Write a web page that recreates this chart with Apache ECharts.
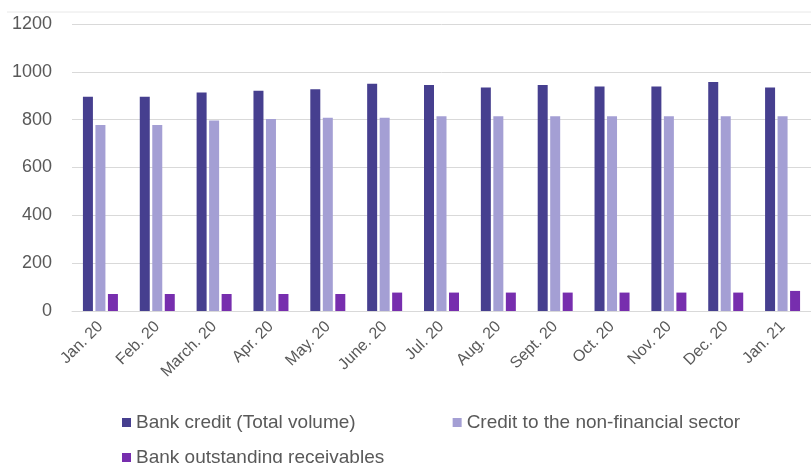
<!DOCTYPE html>
<html>
<head>
<meta charset="utf-8">
<script src="https://cdn.jsdelivr.net/npm/echarts@6/dist/echarts.min.js"></script>
<style>
  html, body { margin: 0; padding: 0; background: #fff; }
  #main { width: 811px; height: 463px; }
</style>
</head>
<body>
<div id="main"></div>
<script>
const months = ['Jan. 20', 'Feb. 20', 'March. 20', 'Apr. 20', 'May. 20', 'June. 20', 'Jul. 20',
  'Aug. 20', 'Sept. 20', 'Oct. 20', 'Nov. 20', 'Dec. 20', 'Jan. 21']
const bankCredit = [896, 896, 914, 921, 927, 950, 945, 934, 945, 939, 939, 957, 934]
const nonFinancial = [778, 778, 797, 803, 808, 808, 814, 814, 814, 814, 814, 814, 814]
const receivables = [71, 71, 71, 71, 71, 77, 77, 77, 77, 77, 77, 77, 84]

const txt = '#595959'
const font = 'Liberation Sans'

const chart = echarts.init(document.getElementById('main'))
chart.setOption({
  animation: false,
  textStyle: { fontFamily: font },
  grid: { left: 72, right: 0, top: 24, bottom: 152 },
  legend: [
    {
      data: ['Bank credit (Total volume)', 'Credit to the non-financial sector'],
      left: 117, top: 408, itemWidth: 9, itemHeight: 9, itemGap: 97,
      icon: 'rect',
      textStyle: { color: txt, fontSize: 19, fontFamily: font },
    },
    {
      data: ['Bank outstanding receivables'],
      left: 117, top: 443, itemWidth: 9, itemHeight: 9,
      icon: 'rect',
      textStyle: { color: txt, fontSize: 19, fontFamily: font },
    },
  ],
  graphic: [
    {
      type: 'line',
      shape: { x1: 7, y1: 12, x2: 811, y2: 12 },
      style: { stroke: '#e8e8e8', lineWidth: 1 },
    },
  ],
  xAxis: {
    type: 'category',
    data: months,
    axisLine: { lineStyle: { color: '#d9d9d9', width: 1 } },
    axisTick: { show: false },
    axisLabel: { rotate: 45, color: txt, fontSize: 16, margin: 13, interval: 0 },
  },
  yAxis: {
    type: 'value',
    min: 0, max: 1200, interval: 200,
    axisLine: { show: false },
    axisTick: { show: false },
    axisLabel: { color: txt, fontSize: 18, margin: 20, formatter: (v) => String(v) },
    splitLine: { lineStyle: { color: '#d9d9d9', width: 1 } },
  },
  series: [
    {
      name: 'Bank credit (Total volume)', type: 'bar', data: bankCredit,
      barWidth: 10, barGap: '25%', itemStyle: { color: '#463F8F' },
    },
    {
      name: 'Credit to the non-financial sector', type: 'bar', data: nonFinancial,
      barWidth: 10, barGap: '25%', itemStyle: { color: '#A49FD4' },
    },
    {
      name: 'Bank outstanding receivables', type: 'bar', data: receivables,
      barWidth: 10, barGap: '25%', itemStyle: { color: '#772EAE' },
    },
  ],
})
</script>
</body>
</html>
